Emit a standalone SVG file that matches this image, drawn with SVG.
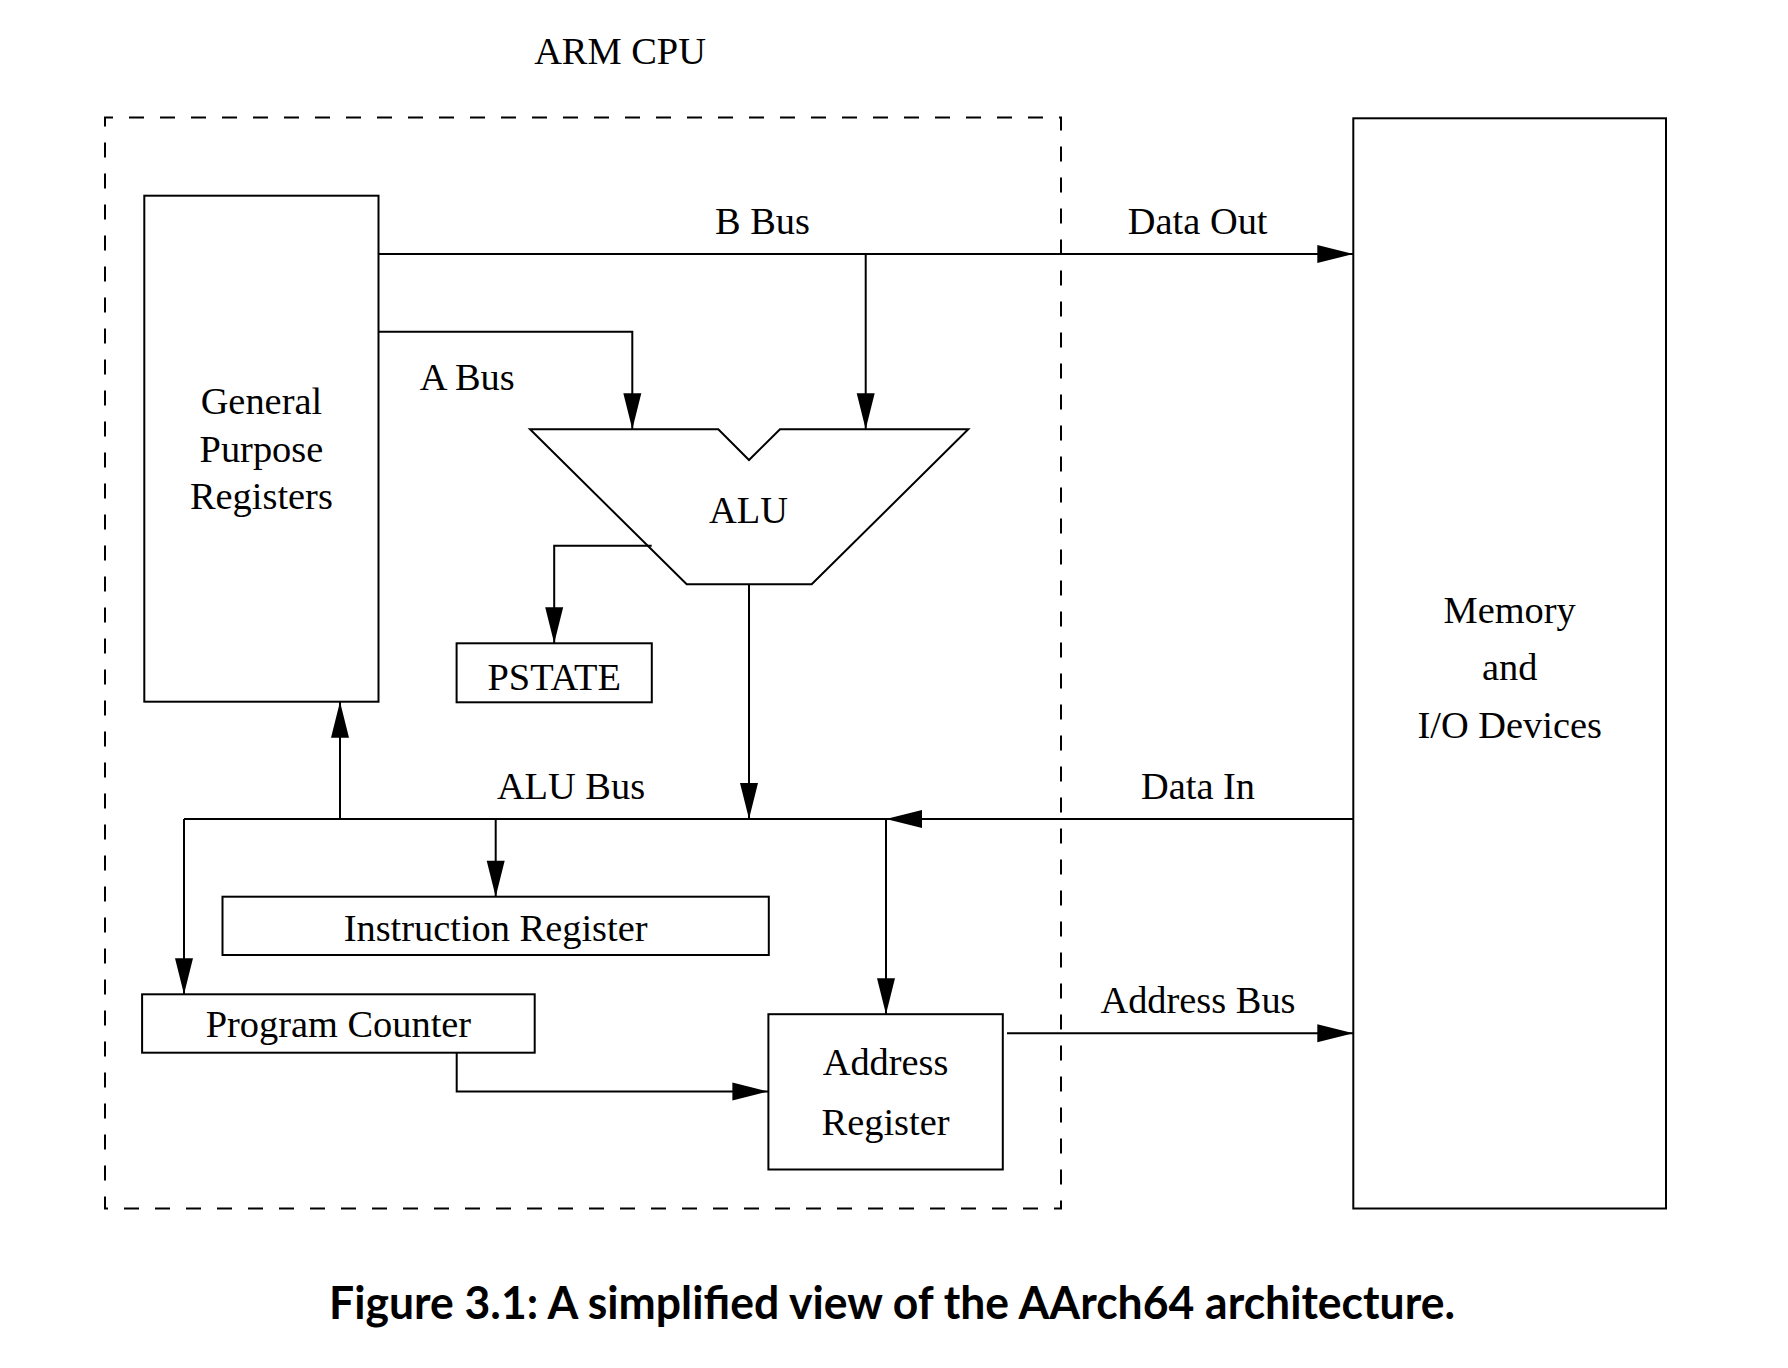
<svg xmlns="http://www.w3.org/2000/svg" width="1788" height="1368" viewBox="0 0 1788 1368">
<style>
.box{fill:none;stroke:#000;stroke-width:2}
.dash{fill:none;stroke:#000;stroke-width:2;stroke-dasharray:15 16;stroke-dashoffset:7}
.wire{fill:none;stroke:#000;stroke-width:2}
.arr{marker-end:url(#ah)}
text{font-family:"Liberation Serif","Times New Roman",serif;font-size:38.4px;fill:#000;text-anchor:middle}
.cap{font-family:Lato,"Open Sans","Noto Sans",sans-serif;font-weight:bold;font-size:45px;text-anchor:start}
</style>
<defs>
<marker id="ah" markerUnits="userSpaceOnUse" markerWidth="36" markerHeight="18" refX="36" refY="9" orient="auto" overflow="visible">
<path d="M0,0 L36,9 L0,18 z" fill="#000"/>
</marker>
</defs>
<rect width="1788" height="1368" fill="#fff"/>

<g id="cpu">
<rect class="dash" x="105" y="117.5" width="956" height="1091"/>
<text x="620" y="64">ARM CPU</text>
</g>

<g id="gpr">
<rect class="box" x="144.3" y="195.7" width="234.2" height="506"/>
<text x="261.4" y="414.3">General</text>
<text x="261.4" y="461.7">Purpose</text>
<text x="261.4" y="509.3">Registers</text>
</g>

<g id="alu">
<polygon class="box" points="530,429.3 718.3,429.3 749,460 780,429.3 968.3,429.3 811.7,584.3 686.7,584.3"/>
<text x="748.5" y="522.7">ALU</text>
</g>

<g id="pstate">
<rect class="box" x="456.6" y="643.3" width="195.2" height="59"/>
<text x="554.2" y="690">PSTATE</text>
</g>

<g id="ir">
<rect class="box" x="222.5" y="896.7" width="546.3" height="58.3"/>
<text x="495.6" y="941">Instruction Register</text>
</g>

<g id="pc">
<rect class="box" x="142.1" y="994.3" width="392.6" height="58.4"/>
<text x="338.4" y="1036.7">Program Counter</text>
</g>

<g id="ar">
<rect class="box" x="768.4" y="1014.2" width="234.4" height="155.3"/>
<text x="885.6" y="1075.4">Address</text>
<text x="885.6" y="1134.8">Register</text>
</g>

<g id="mem">
<rect class="box" x="1353.3" y="118.3" width="312.7" height="1090.2"/>
<text x="1509.7" y="623">Memory</text>
<text x="1509.7" y="680">and</text>
<text x="1509.7" y="738.3">I/O Devices</text>
</g>

<g id="connectors">
<path class="wire arr" d="M378.5,254 H1353.3"/>
<path class="wire arr" d="M865.7,254 V429.3"/>
<path class="wire arr" d="M378.5,331.7 H632.3 V429.3"/>
<path class="wire arr" d="M651.7,545.7 H554.2 V643.3"/>
<path class="wire arr" d="M749,584.3 V819"/>
<path class="wire" d="M184,819 H886"/>
<path class="wire arr" d="M1353.3,819 H886"/>
<path class="wire arr" d="M340,819 V701.7"/>
<path class="wire arr" d="M495.7,819 V896.7"/>
<path class="wire arr" d="M184,819 V994.3"/>
<path class="wire arr" d="M886,819 V1014.2"/>
<path class="wire arr" d="M456.7,1052.7 V1091.5 H768.4"/>
<path class="wire arr" d="M1007,1033.3 H1353.3"/>
<text x="762.5" y="234">B Bus</text>
<text x="1197.7" y="234">Data Out</text>
<text x="467.2" y="390">A Bus</text>
<text x="571" y="799">ALU Bus</text>
<text x="1198" y="798.6">Data In</text>
<text x="1198" y="1013.4">Address Bus</text>
</g>

<text class="cap" x="329" y="1319" textLength="1126" lengthAdjust="spacingAndGlyphs">Figure 3.1: A simplified view of the AArch64 architecture.</text>
</svg>
